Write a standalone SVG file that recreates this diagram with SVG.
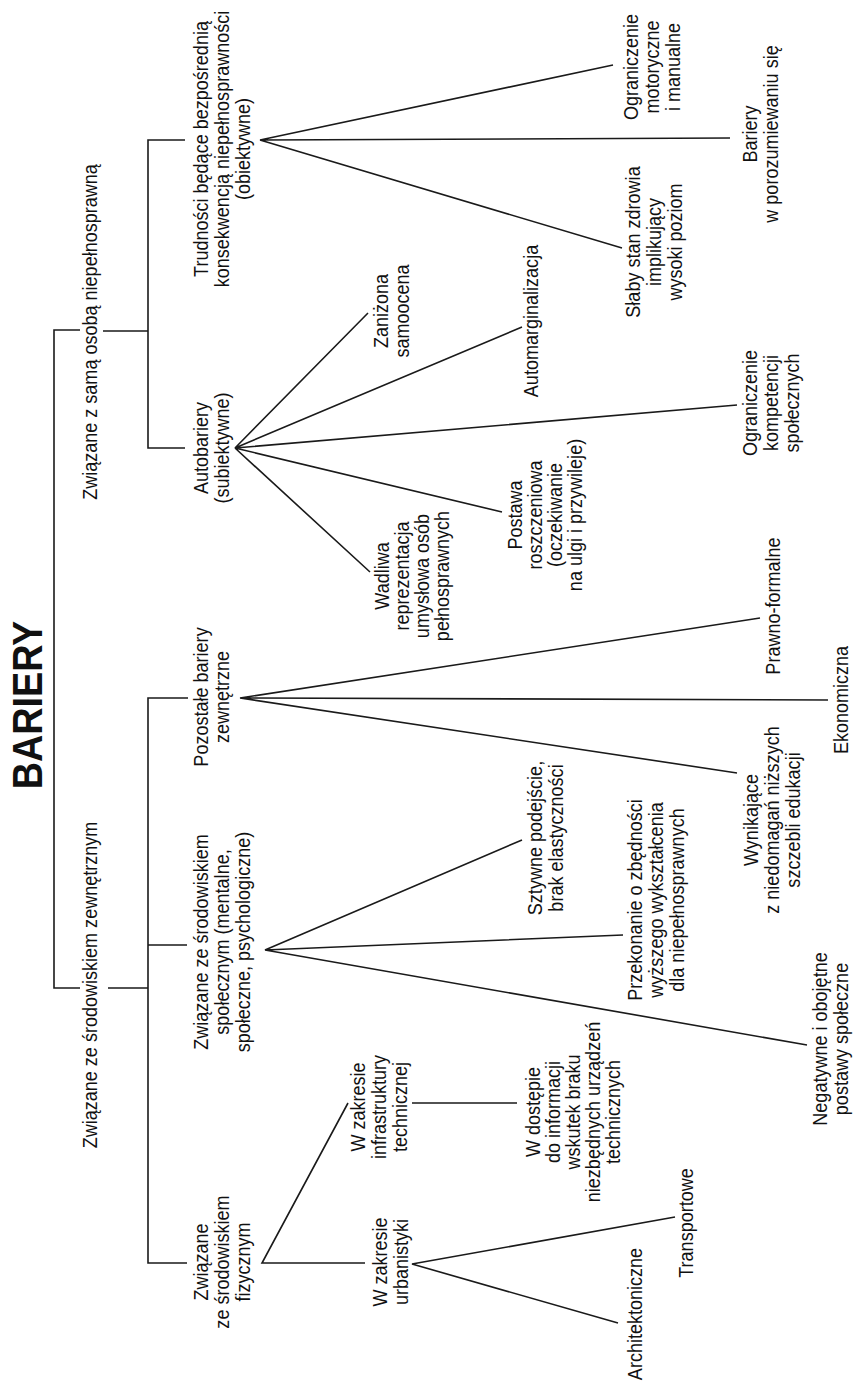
<svg xmlns="http://www.w3.org/2000/svg" width="853" height="1382" viewBox="0 0 853 1382">
<style>
text{font-family:"Liberation Sans",Arial,sans-serif;font-size:20.5px;fill:#111;text-anchor:middle}
.t{font-size:42px;font-weight:bold}
.c{stroke:#1a1a1a;stroke-width:1.6;fill:none}
</style>
<rect width="853" height="1382" fill="#fff"/>
<g id="connectors" class="c">
<path d="M80,330 H54 V988 H80 M103,331 H148 M108,988 H148"/>
<path d="M185,140 H148 V448 H185"/>
<path d="M188,698 H148 V1263 H187 M148,945 H187"/>
<path d="M613,65 L260,140 L730,138 M260,140 L622,248"/>
<path d="M368,313 L235,448 L522,327 M235,448 L737,405 M235,448 L502,512 M235,448 L370,572"/>
<path d="M760,618 L240,698 L828,700 M240,698 L737,773"/>
<path d="M522,840 L265,950 L623,935 M265,950 L807,1045"/>
<path d="M348,1103 L262,1263 L365,1263 M412,1103 H517"/>
<path d="M675,1217 L412,1264 L618,1323"/>
</g>
<g id="n-bariery" transform="translate(42,705) rotate(-90) scale(0.9,1)"><text class="t">BARIERY</text></g>
<g id="n-osoba" transform="translate(97,332) rotate(-90) scale(0.88,1)"><text>Związane z samą osobą niepełnosprawną</text></g>
<g id="n-zewn" transform="translate(97,985) rotate(-90) scale(0.88,1)"><text>Związane ze środowiskiem zewnętrznym</text></g>
<g id="n-trudnosci" transform="translate(208,149) rotate(-90) scale(0.88,1)"><text><tspan x="0" y="0">Trudności będące bezpośrednią</tspan><tspan x="0" y="21">konsekwencją niepełnosprawności</tspan><tspan x="0" y="42">(obiektywne)</tspan></text></g>
<g id="n-autobariery" transform="translate(208,448) rotate(-90) scale(0.88,1)"><text><tspan x="0" y="0">Autobariery</tspan><tspan x="0" y="21">(subiektywne)</tspan></text></g>
<g id="n-pozostale" transform="translate(208,697) rotate(-90) scale(0.88,1)"><text><tspan x="0" y="0">Pozostałe bariery</tspan><tspan x="0" y="21">zewnętrzne</tspan></text></g>
<g id="n-spoleczne" transform="translate(208,942) rotate(-90) scale(0.88,1)"><text><tspan x="0" y="0">Związane ze środowiskiem</tspan><tspan x="0" y="21">społecznym (mentalne,</tspan><tspan x="0" y="42">społeczne, psychologiczne)</tspan></text></g>
<g id="n-fizyczne" transform="translate(208,1262) rotate(-90) scale(0.88,1)"><text><tspan x="0" y="0">Związane</tspan><tspan x="0" y="21">ze środowiskiem</tspan><tspan x="0" y="42">fizycznym</tspan></text></g>
<g id="n-motoryczne" transform="translate(638,67) rotate(-90) scale(0.88,1)"><text><tspan x="0" y="0">Ograniczenie</tspan><tspan x="0" y="21">motoryczne</tspan><tspan x="0" y="42">i manualne</tspan></text></g>
<g id="n-porozumiewanie" transform="translate(757,134) rotate(-90) scale(0.88,1)"><text><tspan x="0" y="0">Bariery</tspan><tspan x="0" y="21">w porozumiewaniu się</tspan></text></g>
<g id="n-zdrowie" transform="translate(640,242) rotate(-90) scale(0.88,1)"><text><tspan x="0" y="0">Słaby stan zdrowia</tspan><tspan x="0" y="21">implikujący</tspan><tspan x="0" y="42">wysoki poziom</tspan></text></g>
<g id="n-samoocena" transform="translate(388,311) rotate(-90) scale(0.88,1)"><text><tspan x="0" y="0">Zaniżona</tspan><tspan x="0" y="21">samoocena</tspan></text></g>
<g id="n-automarg" transform="translate(538,321) rotate(-90) scale(0.88,1)"><text>Automarginalizacja</text></g>
<g id="n-kompetencje" transform="translate(757,403) rotate(-90) scale(0.88,1)"><text><tspan x="0" y="0">Ograniczenie</tspan><tspan x="0" y="21">kompetencji</tspan><tspan x="0" y="42">społecznych</tspan></text></g>
<g id="n-postawa" transform="translate(522,515) rotate(-90) scale(0.88,1)"><text><tspan x="0" y="0">Postawa</tspan><tspan x="0" y="20">roszczeniowa</tspan><tspan x="0" y="40">(oczekiwanie</tspan><tspan x="0" y="60">na ulgi i przywileje)</tspan></text></g>
<g id="n-wadliwa" transform="translate(389,576) rotate(-90) scale(0.88,1)"><text><tspan x="0" y="0">Wadliwa</tspan><tspan x="0" y="20">reprezentacja</tspan><tspan x="0" y="40">umysłowa osób</tspan><tspan x="0" y="60">pełnosprawnych</tspan></text></g>
<g id="n-prawno" transform="translate(780,606) rotate(-90) scale(0.88,1)"><text>Prawno-formalne</text></g>
<g id="n-ekonomiczna" transform="translate(848,700) rotate(-90) scale(0.88,1)"><text>Ekonomiczna</text></g>
<g id="n-wynikajace" transform="translate(758,820) rotate(-90) scale(0.88,1)"><text><tspan x="0" y="0">Wynikające</tspan><tspan x="0" y="21">z niedomagań niższych</tspan><tspan x="0" y="42">szczebli edukacji</tspan></text></g>
<g id="n-sztywne" transform="translate(542,838) rotate(-90) scale(0.88,1)"><text><tspan x="0" y="0">Sztywne podejście,</tspan><tspan x="0" y="21">brak elastyczności</tspan></text></g>
<g id="n-przekonanie" transform="translate(642,900) rotate(-90) scale(0.88,1)"><text><tspan x="0" y="0">Przekonanie o zbędności</tspan><tspan x="0" y="21">wyższego wykształcenia</tspan><tspan x="0" y="42">dla niepełnosprawnych</tspan></text></g>
<g id="n-negatywne" transform="translate(827,1039) rotate(-90) scale(0.88,1)"><text><tspan x="0" y="0">Negatywne i obojętne</tspan><tspan x="0" y="21">postawy społeczne</tspan></text></g>
<g id="n-infrastruktura" transform="translate(365,1107) rotate(-90) scale(0.88,1)"><text><tspan x="0" y="0">W zakresie</tspan><tspan x="0" y="21">infrastruktury</tspan><tspan x="0" y="42">technicznej</tspan></text></g>
<g id="n-dostep" transform="translate(540,1112) rotate(-90) scale(0.88,1)"><text><tspan x="0" y="0">W dostępie</tspan><tspan x="0" y="20">do informacji</tspan><tspan x="0" y="40">wskutek braku</tspan><tspan x="0" y="60">niezbędnych urządzeń</tspan><tspan x="0" y="80">technicznych</tspan></text></g>
<g id="n-urbanistyka" transform="translate(387,1262) rotate(-90) scale(0.88,1)"><text><tspan x="0" y="0">W zakresie</tspan><tspan x="0" y="21">urbanistyki</tspan></text></g>
<g id="n-transportowe" transform="translate(693,1223) rotate(-90) scale(0.88,1)"><text>Transportowe</text></g>
<g id="n-architektoniczne" transform="translate(642,1314) rotate(-90) scale(0.88,1)"><text>Architektoniczne</text></g>
</svg>
